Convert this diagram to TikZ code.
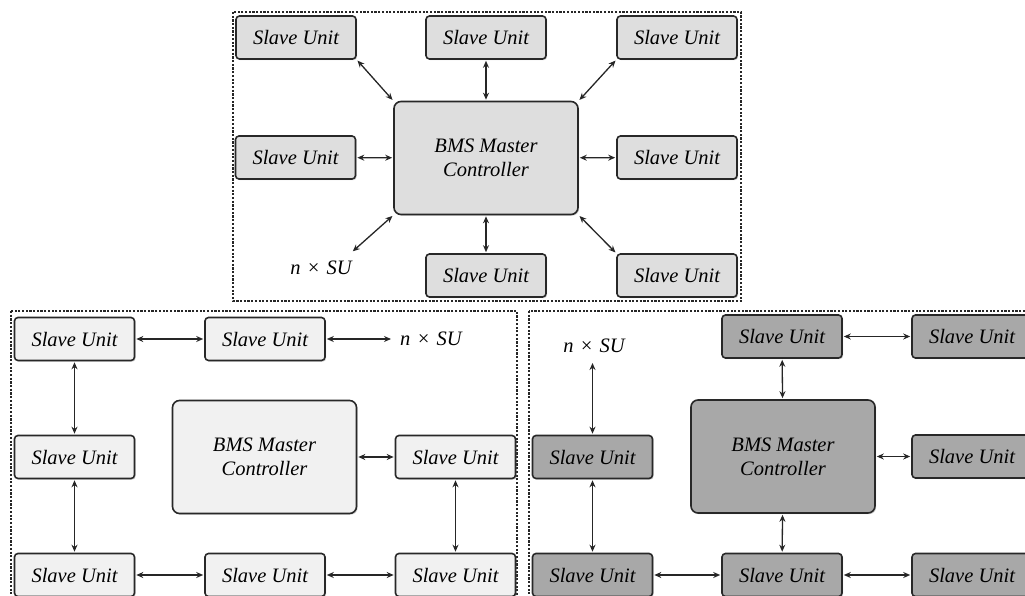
\documentclass[tikz,border=0pt]{standalone}
\usepackage{fontspec}
\setmainfont{Liberation Serif}
\usetikzlibrary{arrows.meta,shadows}
\definecolor{fillmid}{RGB}{222,222,222}
\definecolor{filllight}{RGB}{241,241,241}
\definecolor{filldark}{RGB}{168,168,168}
\definecolor{edgecol}{RGB}{40,40,40}
\newcommand{\nsu}{n\hspace{0.3em}\texttimes\hspace{0.3em}SU}
\tikzset{
  unitbox/.style={draw=edgecol, line width=1.6pt, rounded corners=3.5pt,
    minimum width=120pt, minimum height=43pt, inner sep=0pt,
    font=\fontsize{20.5}{23}\selectfont\itshape,
    drop shadow={shadow xshift=1.2pt, shadow yshift=-1.2pt, opacity=0.35}},
  masterbox/.style={unitbox, minimum width=184pt, minimum height=113pt,
    rounded corners=7pt, align=center, font=\fontsize{20.5}{24}\selectfont\itshape},
  sulabel/.style={inner sep=0pt, font=\fontsize{20.5}{23}\selectfont\itshape},
  link/.style={line width=1.3pt, draw=black!85,
    {Stealth[length=7pt,width=6pt]}-{Stealth[length=7pt,width=6pt]},
    shorten <=1pt, shorten >=1pt},
  panel/.style={draw=black!85, line width=2.8pt, dash pattern=on 2.2pt off 1.5pt}
}
\begin{document}
\begin{tikzpicture}[x=1pt,y=-1pt]
\useasboundingbox (0,0) rectangle (1025,596);
\clip (0,0) rectangle (1025,596);

% panel frames
\draw[panel] (233,12) rectangle (741,301);
\draw[panel] (11,311) rectangle (517,620);
\draw[panel] (529,311) rectangle (1060,620);

% ---- star arrangement ----
\begin{scope}[every node/.append style={fill=fillmid}]
\node[masterbox] (tm) at (486,158) {BMS Master\\Controller};
\node[unitbox] (t1) at (296,37.5) {Slave Unit};
\node[unitbox] (t2) at (486,37.5) {Slave Unit};
\node[unitbox] (t3) at (677,37.5) {Slave Unit};
\node[unitbox] (t4) at (295.5,157.5) {Slave Unit};
\node[unitbox] (t5) at (677,157.5) {Slave Unit};
\node[unitbox] (t6) at (486,275.5) {Slave Unit};
\node[unitbox] (t7) at (677,275.5) {Slave Unit};
\end{scope}
\node[sulabel] (tn) at (321,268) {\nsu};
\coordinate (tnc) at (352,252);

\draw[link] (t1.south east) -- (tm.north west);
\draw[link] (t2) -- (tm);
\draw[link] (t3.south west) -- (tm.north east);
\draw[link] (t4) -- (tm);
\draw[link] (t5) -- (tm);
\draw[link] (tnc) -- (tm.south west);
\draw[link] (t6) -- (tm);
\draw[link] (t7.north west) -- (tm.south east);

% ---- ring arrangement ----
\begin{scope}[every node/.append style={fill=filllight}]
\node[masterbox] (lm) at (264.5,457) {BMS Master\\Controller};
\node[unitbox] (l1) at (74.5,339) {Slave Unit};
\node[unitbox] (l2) at (265,339) {Slave Unit};
\node[unitbox] (l3) at (74.5,457) {Slave Unit};
\node[unitbox] (l4) at (455.5,457) {Slave Unit};
\node[unitbox] (l5) at (74.5,575) {Slave Unit};
\node[unitbox] (l6) at (265,575) {Slave Unit};
\node[unitbox] (l7) at (455.5,575) {Slave Unit};
\end{scope}
\node[sulabel, anchor=west] (ln) at (400,339) {\nsu};

\draw[link] (l1) -- (l2);
\draw[link] (l2) -- ([xshift=-8pt]ln.west);
\draw[link] (l1) -- (l3);
\draw[link] (l3) -- (l5);
\draw[link] (l5) -- (l6);
\draw[link] (l6) -- (l7);
\draw[link] (l7) -- (l4);
\draw[link] (lm) -- (l4);

% ---- chain arrangement ----
\begin{scope}[every node/.append style={fill=filldark}]
\node[masterbox] (rm) at (783,456.5) {BMS Master\\Controller};
\node[unitbox] (r1) at (782,336.5) {Slave Unit};
\node[unitbox] (r2) at (972,336.5) {Slave Unit};
\node[unitbox] (r3) at (592.5,457) {Slave Unit};
\node[unitbox] (r4) at (972,456.5) {Slave Unit};
\node[unitbox] (r5) at (592.5,575) {Slave Unit};
\node[unitbox] (r6) at (782,575) {Slave Unit};
\node[unitbox] (r7) at (972,575) {Slave Unit};
\end{scope}
\node[sulabel] (rn) at (594,346) {\nsu};
\coordinate (rnc) at (592.5,362);

\draw[link] (r1) -- (r2);
\draw[link] (r1) -- (rm);
\draw[link] (rm) -- (r4);
\draw[link] (rnc) -- (r3.north);
\draw[link] (r3) -- (r5);
\draw[link] (r5) -- (r6);
\draw[link] (r6) -- (r7);
\draw[link] (rm) -- (r6);
\end{tikzpicture}
\end{document}
